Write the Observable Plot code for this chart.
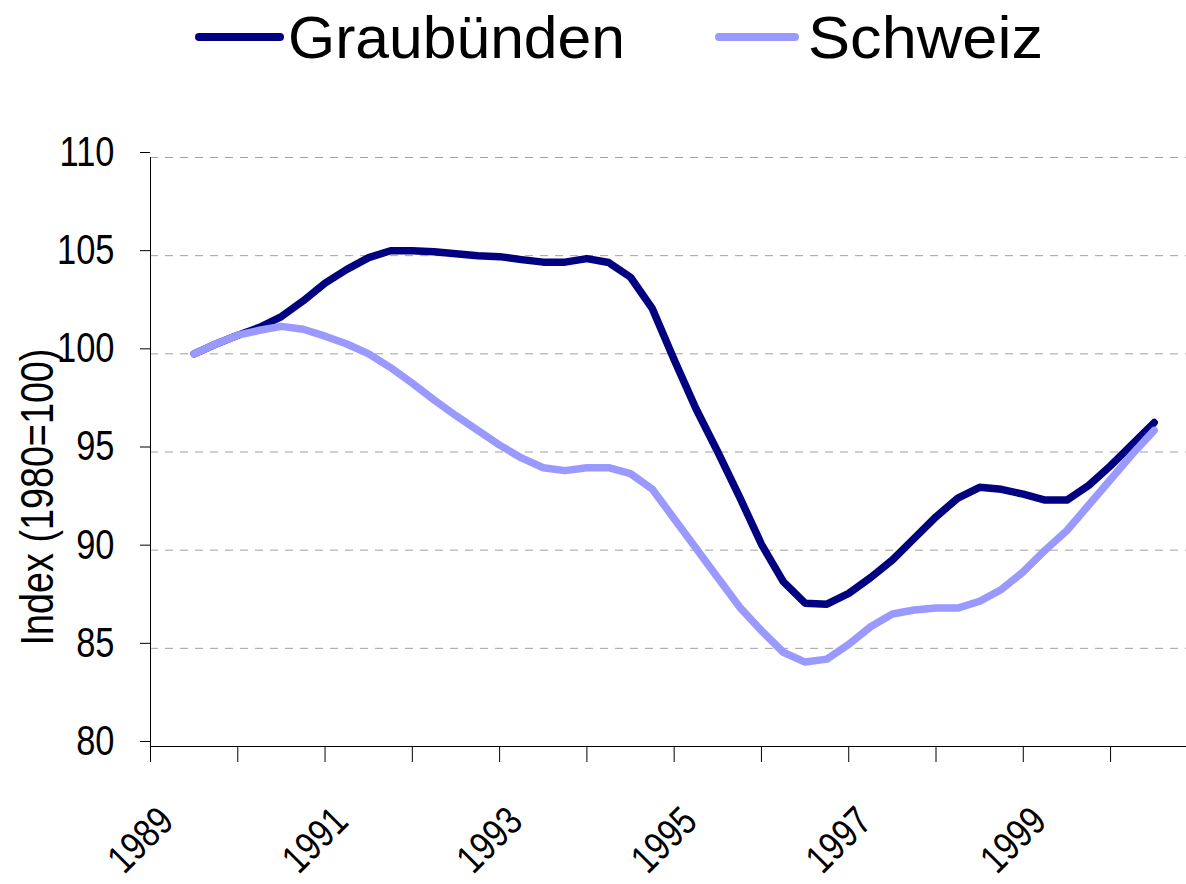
<!DOCTYPE html>
<html><head><meta charset="utf-8">
<script src="https://cdn.jsdelivr.net/npm/d3@7"></script>
<script src="https://cdn.jsdelivr.net/npm/@observablehq/plot@0.6"></script>
<style>
body{margin:0;background:#fff;}
#legend{display:block}
#chart svg{display:block}
</style></head><body>
<svg id="legend" width="1186" height="100"></svg>
<div id="chart"></div>
<script>
const periods = [
  "1989 Q3","1989 Q4",
  "1990 Q1","1990 Q2","1990 Q3","1990 Q4",
  "1991 Q1","1991 Q2","1991 Q3","1991 Q4",
  "1992 Q1","1992 Q2","1992 Q3","1992 Q4",
  "1993 Q1","1993 Q2","1993 Q3","1993 Q4",
  "1994 Q1","1994 Q2","1994 Q3","1994 Q4",
  "1995 Q1","1995 Q2","1995 Q3","1995 Q4",
  "1996 Q1","1996 Q2","1996 Q3","1996 Q4",
  "1997 Q1","1997 Q2","1997 Q3","1997 Q4",
  "1998 Q1","1998 Q2","1998 Q3","1998 Q4",
  "1999 Q1","1999 Q2","1999 Q3","1999 Q4",
  "2000 Q1","2000 Q2","2000 Q3"
];
const graubuenden = [
  100.0, 100.5, 100.95, 101.35, 101.9, 102.7, 103.6, 104.3, 104.9, 105.25,
  105.25, 105.2, 105.1, 105.0, 104.95, 104.8, 104.67, 104.67, 104.85, 104.65,
  103.9, 102.3, 99.7, 97.2, 95.0, 92.7, 90.3, 88.4, 87.3, 87.25,
  87.8, 88.6, 89.5, 90.6, 91.7, 92.65, 93.2, 93.1, 92.85, 92.55,
  92.55, 93.3, 94.3, 95.4, 96.5
];
const schweiz = [
  100.0, 100.5, 100.95, 101.2, 101.4, 101.25, 100.9, 100.5, 100.0, 99.3,
  98.5, 97.65, 96.85, 96.1, 95.35, 94.7, 94.2, 94.05, 94.2, 94.2,
  93.9, 93.1, 91.6, 90.1, 88.6, 87.1, 85.9, 84.8, 84.3, 84.45,
  85.2, 86.1, 86.75, 86.95, 87.05, 87.05, 87.4, 88.0, 88.9, 90.0,
  91.0, 92.3, 93.6, 94.9, 96.1
];
const seriesNames = ["Graubünden", "Schweiz"];
const seriesColors = ["#000080", "#9999ff"];
const yTicks = [80, 85, 90, 95, 100, 105, 110];
const xTickYears = [1989, 1990, 1991, 1992, 1993, 1994, 1995, 1996, 1997, 1998, 1999, 2000];
const xLabelYears = [1989, 1991, 1993, 1995, 1997, 1999];
const yLabel = "Index (1980=100)";

const REG = "'Liberation Sans',Arial,sans-serif";

const toYear = p => { const [y, q] = p.split(" Q"); return +y + (+q - 1) / 4; };
const gData = periods.map((p, i) => ({t: toYear(p), v: graubuenden[i]}));
const sData = periods.map((p, i) => ({t: toYear(p), v: schweiz[i]}));

// legend
const lg = d3.select("#legend");
const legendItems = [
  {name: seriesNames[0], color: seriesColors[0], x1: 199, x2: 280, tx: 288, w: 337},
  {name: seriesNames[1], color: seriesColors[1], x1: 719, x2: 795, tx: 808, w: 235}
];
legendItems.forEach(it => {
  lg.append("line").attr("x1", it.x1).attr("x2", it.x2).attr("y1", 37).attr("y2", 37)
    .attr("stroke", it.color).attr("stroke-width", 8).attr("stroke-linecap", "round");
  lg.append("text").attr("x", it.tx).attr("y", 58).attr("font-family", REG)
    .attr("font-size", 60).attr("fill", "#000")
    .attr("textLength", it.w).attr("lengthAdjust", "spacingAndGlyphs").text(it.name);
});

const lineOpts = {x: "t", y: "v", strokeWidth: 7.5, strokeLinecap: "round", strokeLinejoin: "round"};
const plot = Plot.plot({
  width: 1186, height: 784,
  marginLeft: 150, marginRight: 0, marginTop: 57, marginBottom: 138,
  x: {domain: [1989, 2000.87]},
  y: {domain: [80, 110]},
  style: {fontFamily: REG, background: "white", overflow: "visible", color: "#000"},
  marks: [
    Plot.ruleY(yTicks.filter(d => d > 80), {stroke: "#a0a0a0", strokeDasharray: "8,7", strokeWidth: 1}),
    Plot.ruleY([80], {stroke: "#000", strokeWidth: 1}),
    Plot.ruleX([1989], {stroke: "#000", strokeWidth: 1}),
    Plot.axisY({ticks: yTicks, tickSize: 10, tickPadding: 26, fontSize: 42, dy: -5, label: null, tickFormat: d => String(d)}),
    Plot.axisX({ticks: xTickYears, tickSize: 16, tickFormat: () => "", label: null}),
    Plot.text(xLabelYears, {x: d => d, y: 80, text: d => String(d), rotate: -45, textAnchor: "end", lineAnchor: "middle", dx: 16, dy: 68, fontSize: 40, fill: "#000"}),
    Plot.text([yLabel], {frameAnchor: "left", text: d => d, rotate: -90, textAnchor: "middle", lineAnchor: "bottom", dx: -98, dy: 45, fontSize: 46, fill: "#000"}),
    Plot.line(gData, {...lineOpts, stroke: seriesColors[0]}),
    Plot.line(sData, {...lineOpts, stroke: seriesColors[1]})
  ]
});
document.getElementById("chart").appendChild(plot);
// condense the axis texts horizontally, like the narrow face of the original
d3.select(plot).selectAll("text").each(function() {
  const L = this.getComputedTextLength();
  if (L > 0) {
    this.setAttribute("textLength", (L * 0.82).toFixed(1));
    this.setAttribute("lengthAdjust", "spacingAndGlyphs");
  }
});
</script>
</body></html>
